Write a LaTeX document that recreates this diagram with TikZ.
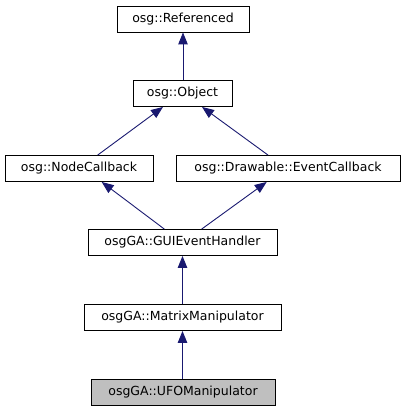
\documentclass[tikz,border=0pt]{standalone}
\usepackage{fontspec}
\setmainfont{DejaVu Sans}
\usetikzlibrary{arrows.meta}
\definecolor{edgeblue}{HTML}{191970}
\definecolor{focusgray}{HTML}{BFBFBF}
\tikzset{
  cls/.style={draw=black, line width=0.9pt, fill=white, minimum height=26pt, inner sep=0pt,
    font=\fontsize{12.5pt}{14pt}\selectfont, text=black},
  inh/.style={draw=edgeblue, line width=0.9pt, -{Triangle[length=12pt,width=9.5pt]}, color=edgeblue},
}
\begin{document}
\begin{tikzpicture}[x=1pt,y=-1pt]
\useasboundingbox (0,0) rectangle (405,411);
\node[cls, minimum width=132pt] (ref) at (183,19) {osg::Referenced};
\node[cls, minimum width=99pt] (obj) at (182.5,93.5) {osg::Object};
\node[cls, minimum width=148pt] (ncb) at (79,168.5) {osg::NodeCallback};
\node[cls, minimum width=224pt] (ecb) at (288,168.5) {osg::Drawable::EventCallback};
\node[cls, minimum width=189pt] (gui) at (182.5,242.5) {osgGA::GUIEventHandler};
\node[cls, minimum width=197pt] (mat) at (182.5,317.5) {osgGA::MatrixManipulator};
\node[cls, minimum width=184pt, fill=focusgray] (ufo) at (183,392.5) {osgGA::UFOManipulator};
\draw[inh] (obj.north -| ref.south) -- (ref.south);
\draw[inh] ([xshift=18.7pt]ncb.north) -- ([xshift=-19.5pt]obj.south);
\draw[inh] ([xshift=-20pt]ecb.north) -- ([xshift=19.5pt]obj.south);
\draw[inh] ([xshift=-18.2pt]gui.north) -- ([xshift=22.7pt]ncb.south);
\draw[inh] ([xshift=19.2pt]gui.north) -- ([xshift=-21.3pt]ecb.south);
\draw[inh] (mat.north) -- (gui.south);
\draw[inh] (ufo.north -| mat.south) -- (mat.south);
\end{tikzpicture}
\end{document}
